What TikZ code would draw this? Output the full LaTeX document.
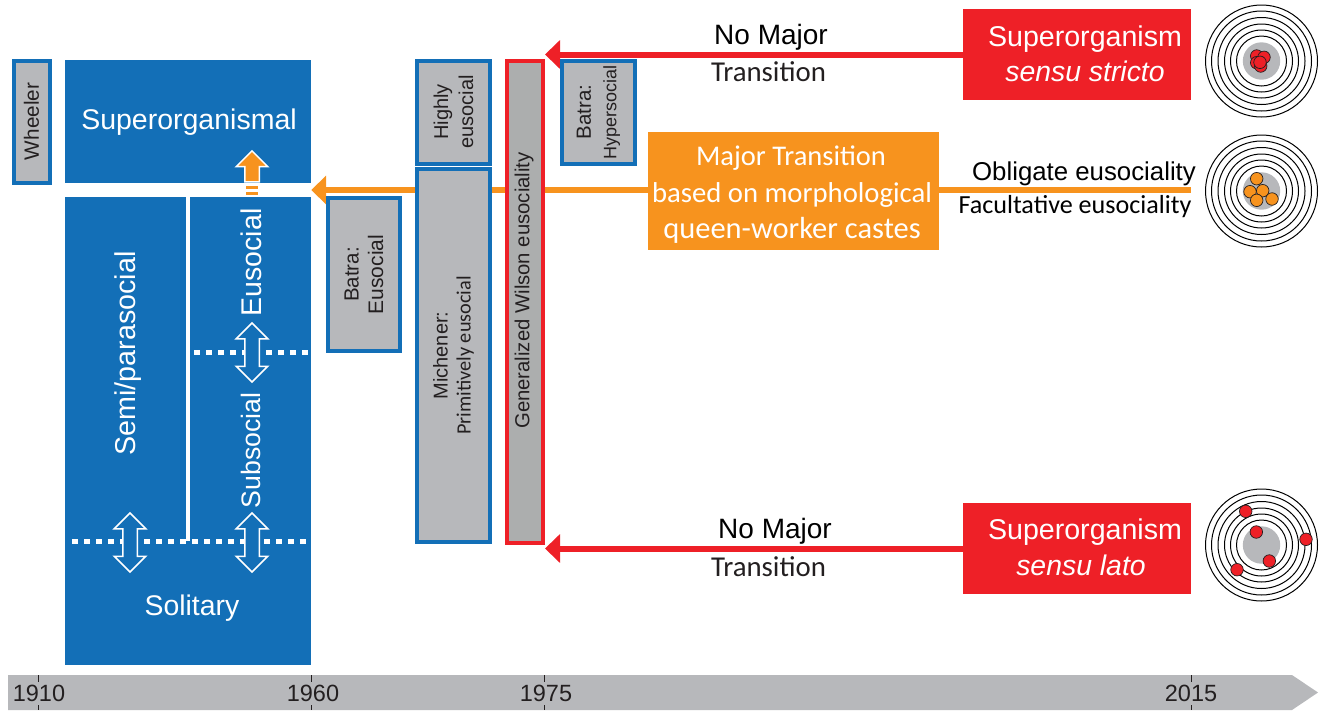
\documentclass[tikz,border=0pt]{standalone}
\usepackage{fontspec}
\setmainfont{Liberation Sans}
\newfontfamily\myriad{Carlito}
\usetikzlibrary{arrows.meta,shapes.arrows,backgrounds}
\definecolor{blockblue}{RGB}{19,111,183}
\definecolor{boxgray}{RGB}{183,184,187}
\definecolor{wilsongray}{RGB}{172,174,174}
\definecolor{marsred}{RGB}{238,32,39}
\definecolor{majorange}{RGB}{247,147,30}
\definecolor{inktext}{RGB}{35,31,32}
\newcommand{\fs}[1]{\fontsize{#1}{#1}\selectfont}
\tikzset{
  block/.style={fill=blockblue,text=white,inner sep=0,anchor=center},
  blocktext/.style={text=white,inner sep=0},
  termbox/.style={draw=blockblue,line width=4,fill=boxgray,inner sep=0,text=inktext,align=center,rotate=90},
  redbox/.style={fill=marsred,text=white,inner sep=0,align=center},
  whitetext/.style={text=white,inner sep=0},
  dotline/.style={white,line width=5,dash pattern=on 6 off 6},
  updown/.style={double arrow,rotate=90,draw=white,line width=1.5,fill=blockblue,inner sep=6.5,
    double arrow head extend=8.5,double arrow tip angle=90,minimum height=59},
  redarrow/.style={marsred,line width=6,-{Triangle[length=15,width=28]}},
  orangearrow/.style={majorange,line width=6,-{Triangle[length=15,width=28]}},
  ring/.style={draw=black,line width=1,fill=none},
  tick/.style={inktext,line width=1},
  yearlabel/.style={text=inktext,inner sep=0},
  dotred/.style={circle,draw=inktext,line width=0.7,fill=marsred,minimum size=12.5,inner sep=0},
  dotorange/.style={circle,draw=inktext,line width=0.7,fill=majorange,minimum size=12.5,inner sep=0}
}
\begin{document}
\begin{tikzpicture}[x=1pt,y=-1pt]
\useasboundingbox (0,0) rectangle (1325,710);

% time axis
\fill[boxgray] (8,675) -- (1292,675) -- (1318,692.5) -- (1292,710) -- (8,710) -- cycle;
\foreach \x/\yr/\tx in {38/1910/39,311/1960/313,544/1975/546,1191/2015/1191} {
  \draw[tick] (\x,675) -- (\x,682);
  \draw[tick] (\x,705) -- (\x,710);
  \node[yearlabel,font=\fs{23.5}] (y\yr) at (\tx,693.5) {\yr};
}

% blue blocks
\node[block,minimum width=246,minimum height=123] (super) at (188,121.5) {};
\node[block,minimum width=246,minimum height=468] (lower) at (188,431) {};
\node[blocktext,font=\fs{28.5}] (supertext) at (189,122) {Superorganismal};
\node[blocktext,font=\fs{28.7},rotate=90] (semi) at (128,353.5) {Semi/parasocial};
\node[blocktext,font=\fs{28.5},rotate=90] (eusoc) at (251,262.5) {Eusocial};
\node[blocktext,font=\fs{26.7},rotate=90] (subsoc) at (251,450.5) {Subsocial};
\node[blocktext,font=\fs{28.4}] (solitary) at (192,608) {Solitary};

\coordinate (splittop) at (188,197);
\coordinate (splitbot) at (188,541);
\draw[white,line width=4] (splittop) -- (splitbot);
\coordinate (dotaleft) at (72,541);
\coordinate (dotaright) at (311,541);
\coordinate (dotbleft) at (194,352);
\coordinate (dotbright) at (311,352);
\draw[dotline] (dotaleft) -- (dotaright);
\draw[dotline] (dotbleft) -- (dotbright);

\node[updown] (uda) at (130,542.5) {};
\node[updown] (udb) at (252,542.5) {};
\node[updown] (udc) at (252,352.5) {};

% orange arrow going up
\fill[majorange] (246,186) rectangle (258,189);
\fill[majorange] (246,192) rectangle (258,195);
\node[single arrow,rotate=90,draw=white,line width=1.5,fill=majorange,inner sep=6.5,
  single arrow head extend=8.5,single arrow tip angle=90,minimum height=31] (uparrow) at (252,170) {};

% grey term boxes
\node[termbox,minimum width=122,minimum height=36,font=\fs{20.7}] (wheeler) at (31.5,121.5) {Wheeler};
\node[termbox,minimum width=103,minimum height=73,font=\fs{20}] (highly) at (453.5,112) {Highly\\[5pt]eusocial};
\node[termbox,minimum width=373,minimum height=73,font=\fs{20}] (michener) at (453.5,355.5) {Michener:\\[3pt]{\myriad\fs{20.3}Primitively eusocial}};
\node[termbox,draw=marsred,fill=wilsongray,minimum width=482,minimum height=36] (wilson) at (525,301.5) {};
\node[text=inktext,inner sep=0,font=\fs{20.3},rotate=90] (wilsontext) at (524,290.5) {Generalized Wilson eusociality};
\node[termbox,minimum width=103,minimum height=73,font=\fs{20.5}] (hyper) at (598.5,112) {Batra:\\[5pt]{\fs{18}Hypersocial}};
\node[termbox,minimum width=153,minimum height=72,font=\fs{20.5}] (batra) at (364,274.5) {Batra:\\[4pt]{\fs{21}Eusocial}};

% right hand boxes
\node[redbox,minimum width=228,minimum height=91] (stricto) at (1077,54.5) {};
\node[whitetext,font=\fs{28.6}] (strictoa) at (1085,39) {Superorganism};
\node[whitetext,font=\fs{28.4}\itshape] (strictob) at (1085,71) {sensu stricto};
\node[redbox,minimum width=228,minimum height=91] (lato) at (1077,548.5) {};
\node[whitetext,font=\fs{28.6}] (latoa) at (1085,532) {Superorganism};
\node[whitetext,font=\fs{28.4}\itshape] (latob) at (1081,565) {sensu lato};
\node[fill=majorange,text=white,inner sep=0,align=center,minimum width=291,minimum height=118] (major) at (793.5,191) {};
\node[whitetext,font=\myriad\fs{28.5}] (majora) at (791,158.5) {Major Transition};
\node[whitetext,font=\myriad\fs{28.7}] (majorb) at (792,195) {based on morphological};
\node[whitetext,font=\myriad\fs{30.5}] (majorc) at (792,230) {queen-worker castes};

% connectors go behind the boxes
\coordinate (oblend) at (1191,190);
\begin{scope}[on background layer]
\draw[redarrow] (stricto.west) -- (stricto.west -| wilson.south);
\draw[redarrow] (lato.west) -- (lato.west -| wilson.south);
\draw[orangearrow] (major.west |- oblend) -- (oblend -| super.east);
\draw[majorange,line width=6] (major.east |- oblend) -- (oblend);
\end{scope}

\node[text=black,inner sep=0,font=\fs{28}] (nomajora) at (771,37) {No Major};
\node[text=inktext,inner sep=0,font=\myriad\fs{28.8}] (transa) at (768.5,72) {Transition};
\node[text=black,inner sep=0,font=\fs{28}] (nomajorb) at (775,531) {No Major};
\node[text=inktext,inner sep=0,font=\myriad\fs{28.8}] (transb) at (768.5,566.5) {Transition};
\node[text=black,inner sep=0,font=\fs{25.8}] (obligate) at (1084,174) {Obligate eusociality};
\node[text=black,inner sep=0,font=\myriad\fs{26.1}] (facult) at (1075,207) {Facultative eusociality};

% targets
\foreach \cy in {61,191,545} {
  \fill[boxgray] (1261.5,\cy) circle (18.7);
  \foreach \r in {25,31,37,43.5,50,56} {
    \draw[ring] (1261.5,\cy) circle (\r);
  }
}
\foreach \nm/\px/\py in {a/1256.7/56,b/1264/57.3,c/1256.7/62.7,d/1260.7/66,e/1260/62.3} {
  \node[dotred] (r\nm) at (\px,\py) {};
}
\foreach \nm/\px/\py in {a/1256.7/178.7,b/1250/191.7,c/1262.7/190.7,d/1256.7/200.3,e/1272/199} {
  \node[dotorange] (o\nm) at (\px,\py) {};
}
\foreach \nm/\px/\py in {a/1245.7/511.3,b/1256.3/532,c/1306/539.3,d/1269.3/561,e/1237/569.7} {
  \node[dotred] (l\nm) at (\px,\py) {};
}
\end{tikzpicture}
\end{document}
